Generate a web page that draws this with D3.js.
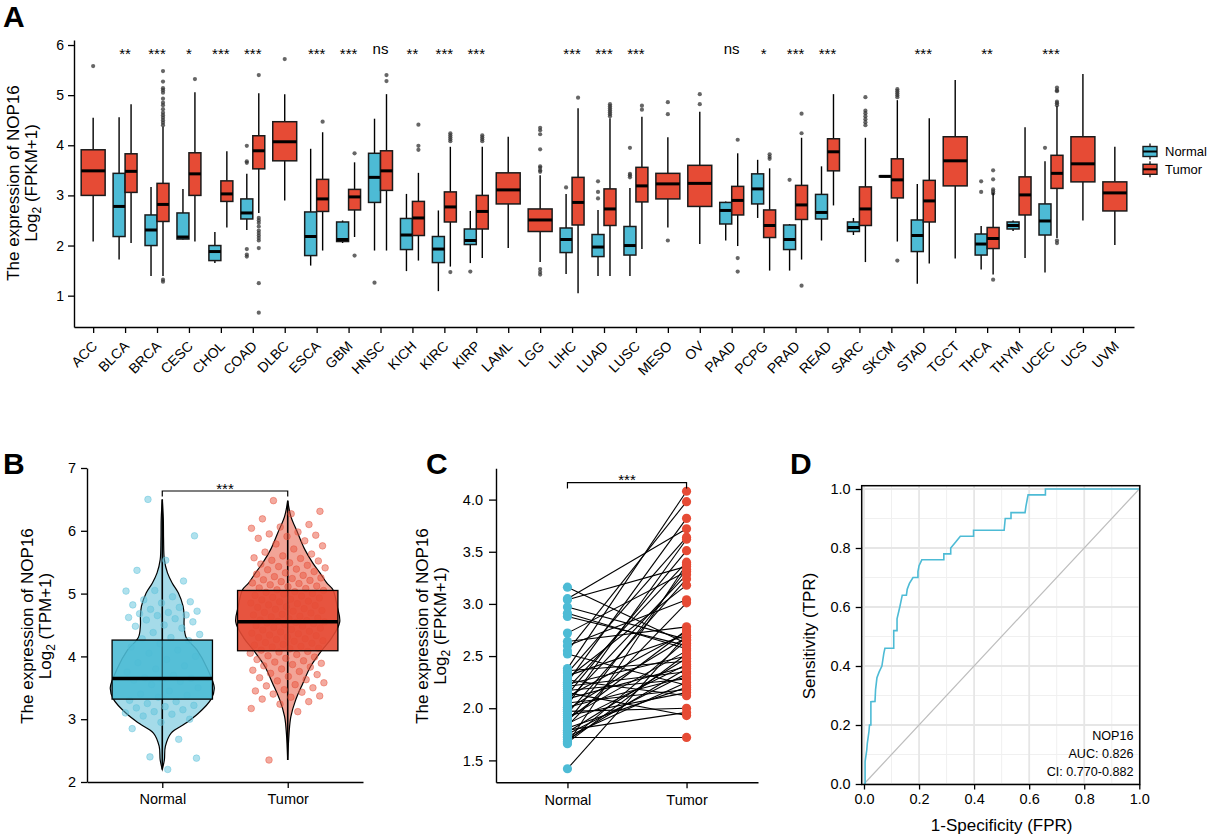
<!DOCTYPE html>
<html><head><meta charset="utf-8">
<script src="https://cdn.jsdelivr.net/npm/d3@7"></script>
<style>
body{margin:0;background:#fff;}
text{font-family:"Liberation Sans",Arial,Helvetica,sans-serif;fill:#000;}
</style>
</head><body>
<svg id="chart" width="1207" height="837" xmlns="http://www.w3.org/2000/svg"></svg>
<script>
// ---------------- DATA ----------------
// Panel A: pan-cancer boxplots  [lowerWhisker, Q1, median, Q3, upperWhisker]
const cancers = ["ACC","BLCA","BRCA","CESC","CHOL","COAD","DLBC","ESCA","GBM","HNSC","KICH","KIRC","KIRP","LAML","LGG","LIHC","LUAD","LUSC","MESO","OV","PAAD","PCPG","PRAD","READ","SARC","SKCM","STAD","TGCT","THCA","THYM","UCEC","UCS","UVM"];
const normalStats = [
  null,[1.72,2.18,2.78,3.44,4.56],[1.39,2.0,2.31,2.61,3.17],[2.12,2.13,2.17,2.65,3.13],[1.65,1.70,1.88,2.0,2.27],
  [2.31,2.53,2.65,2.93,3.43],null,[1.6,1.8,2.18,2.67,3.93],[2.05,2.08,2.12,2.47,2.5],[1.9,2.86,3.36,3.84,4.53],
  [1.49,1.92,2.21,2.54,3.03],[1.09,1.66,1.93,2.18,2.7],[1.65,2.02,2.1,2.33,2.69],null,null,
  [1.43,1.86,2.12,2.35,3.03],[1.39,1.78,1.97,2.22,2.71],[1.39,1.81,2.0,2.38,3.15],null,null,
  [2.1,2.43,2.7,2.86,2.88],[2.55,2.83,3.13,3.43,3.71],[1.5,1.92,2.12,2.41,2.43],[2.1,2.53,2.66,3.02,3.58],[2.21,2.28,2.36,2.47,2.55],
  [3.36,3.37,3.38,3.39,3.40],[1.24,1.88,2.2,2.51,3.23],null,[1.52,1.81,2.03,2.23,2.39],[2.29,2.33,2.4,2.47,2.5],
  [1.46,2.21,2.49,2.83,3.68],null,null
];
const tumorStats = [
  [2.08,3.0,3.49,3.91,4.55],[2.05,3.06,3.48,3.83,4.82],[1.39,2.48,2.82,3.24,4.37],[2.08,3.0,3.43,3.85,5.06],[2.36,2.88,3.03,3.29,3.88],
  [2.65,3.53,3.89,4.19,5.04],[2.9,3.69,4.07,4.47,5.02],[1.9,2.68,2.93,3.32,4.26],[2.17,2.71,2.97,3.12,3.66],[1.9,3.1,3.49,3.89,5.02],
  [1.7,2.2,2.55,2.88,3.45],[1.58,2.47,2.77,3.07,3.97],[1.75,2.33,2.68,3.0,3.97],[1.95,2.83,3.11,3.45,4.17],[1.67,2.28,2.51,2.73,3.4],
  [1.05,2.41,2.86,3.36,4.74],[1.39,2.4,2.73,3.13,4.54],[1.93,2.87,3.19,3.56,4.57],[2.36,2.93,3.23,3.44,4.16],[2.03,2.78,3.24,3.6,4.67],
  [1.99,2.61,2.9,3.18,3.84],[1.5,2.16,2.4,2.71,3.54],[1.72,2.52,2.81,3.2,4.15],[2.8,3.49,3.87,4.13,5.02],[1.67,2.4,2.73,3.17,4.15],
  [2.08,2.95,3.31,3.73,4.9],[1.64,2.47,2.89,3.3,4.54],[1.74,3.19,3.69,4.17,5.3],[1.42,1.94,2.14,2.36,3.05],[1.75,2.61,3.01,3.37,4.36],
  [2.15,3.14,3.44,3.8,4.78],[2.5,3.27,3.63,4.17,5.42],[2.01,2.69,3.05,3.27,3.97]
];
const normalOutliers = [
  [],[],[],[],[],[3.99,3.68,3.65,1.93,1.82,1.78],[],[],[],[1.26],
  [],[],[1.48],[],[],[3.16],[3.28,3.07,2.94],[3.95,3.43,3.4,3.36],[],[],
  [],[],[3.31],[],[],[],[],[],[3.28,3.07],[],[3.95],[],[]
];
const tumorOutliers = [
  [5.58],[],[5.48,5.27,5.14,5.1,5.05,4.93,4.85,4.8,4.72,4.65,4.6,4.55,4.5,4.45,4.4,1.32,1.28],[5.32],[],
  [5.4,2.55,2.5,2.45,2.38,2.3,2.25,2.2,2.15,2.1,1.95,1.25,0.66],[5.72],[4.47],[3.84,1.8],[5.4,5.28],
  [4.41,3.99,3.91],[4.24,4.2,4.16,4.12,4.08,1.47],[4.2,4.16,4.12,4.08],[],[4.35,4.3,4.22,3.92,3.58,3.55,3.5,3.47,1.53,1.47,1.42],
  [4.95],[4.82,4.78,4.74,4.7,4.66,4.62,4.58],[4.79,4.71],[4.86,4.62,2.1],[5.02,4.82],
  [4.11,1.75,1.48],[3.82,3.77,3.73],[4.63,4.24,1.2],[],[4.96,4.69,4.64,4.58,4.52,4.46,4.4],
  [5.12,5.08,5.04,5.0,4.96,1.7],[],[],[3.5,3.32,3.12,3.08,3.04,1.32],[],
  [5.15,5.1,5.08,4.87,4.84,4.8,2.1,2.05],[],[]
];
const sigLabels = ["","**","***","*","***","***","","***","***","ns","**","***","***","","","***","***","***","","","ns","*","***","***","","","***","","**","","***","",""];
const yTicksA = [1,2,3,4,5,6];

// Panel B: unpaired Normal vs Tumor (TPM)
const groups = ["Normal","Tumor"];
const bNormalBox = [2.2,3.32,3.65,4.26,6.5];
const bTumorBox = [2.35,4.09,4.55,5.05,6.48];
const bNormalPts = [6.5,5.92,5.53,5.37,5.2,5.05,5.04,4.95,4.9,4.87,4.85,4.82,4.78,4.75,4.72,4.7,4.68,4.66,4.65,4.62,4.6,4.58,4.55,4.5,4.48,4.45,4.38,4.35,4.3,4.28,4.25,4.2,4.15,4.1,4.05,4.0,3.95,3.9,3.85,3.8,3.75,3.7,3.66,3.65,3.64,3.62,3.6,3.55,3.5,3.45,3.4,3.38,3.35,3.3,3.28,3.25,3.22,3.2,3.18,3.15,3.12,3.1,3.08,3.05,3.0,2.95,2.85,2.68,2.4,2.38,2.2];
const bTumorPts = [6.48,6.31,6.27,6.19,6.1,6.06,6.04,5.98,5.95,5.93,5.91,5.88,5.84,5.79,5.76,5.71,5.66,5.63,5.6,5.57,5.56,5.53,5.52,5.49,5.47,5.45,5.43,5.41,5.39,5.38,5.35,5.33,5.31,5.29,5.27,5.25,5.24,5.22,5.21,5.19,5.17,5.16,5.14,5.12,5.11,5.09,5.08,5.06,5.05,5.03,5.02,5.0,4.99,4.97,4.96,4.94,4.93,4.91,4.9,4.88,4.87,4.85,4.84,4.82,4.81,4.79,4.78,4.76,4.75,4.73,4.72,4.7,4.69,4.67,4.66,4.64,4.63,4.61,4.6,4.58,4.57,4.56,4.55,4.54,4.53,4.52,4.51,4.49,4.48,4.46,4.45,4.43,4.42,4.4,4.39,4.37,4.36,4.34,4.33,4.31,4.3,4.28,4.27,4.25,4.24,4.22,4.21,4.19,4.18,4.16,4.15,4.13,4.12,4.1,4.08,4.07,4.05,4.03,4.01,3.99,3.97,3.95,3.93,3.91,3.89,3.87,3.85,3.83,3.8,3.78,3.76,3.73,3.71,3.68,3.66,3.63,3.61,3.58,3.55,3.53,3.5,3.47,3.45,3.43,3.4,3.37,3.35,3.32,3.28,3.24,3.17,3.12,2.35];
const violinNormalV = [2.2,2.35,2.57,2.78,2.93,3.09,3.32,3.5,3.8,4.1,4.3,4.5,4.64,4.8,5.01,5.17,5.33,5.54,5.86,6.2,6.5];
const violinNormalW = [0,0.04,0.06,0.17,0.44,0.69,0.94,1.0,0.87,0.67,0.46,0.42,0.42,0.4,0.31,0.19,0.1,0.04,0.025,0.02,0];
const violinTumorV = [2.35,2.77,3.04,3.3,3.57,3.84,4.09,4.3,4.55,4.8,5.06,5.17,5.33,5.49,5.7,5.97,6.23,6.48];
const violinTumorW = [0,0.025,0.06,0.15,0.29,0.44,0.65,0.85,1.0,0.95,0.87,0.75,0.62,0.48,0.33,0.19,0.06,0];
const yTicksB = [2,3,4,5,6,7];

// Panel C: paired samples (index i of cNormal is paired with index i of cTumor)
const cNormal = [3.16,3.05,3.04,2.97,2.91,2.88,2.72,2.64,2.6,2.55,2.52,2.38,2.36,2.34,2.31,2.29,2.27,2.25,2.23,2.21,2.19,2.17,2.15,2.13,2.11,2.09,2.07,2.05,2.03,2.01,1.99,1.97,1.95,1.93,1.91,1.89,1.87,1.85,1.83,1.81,1.79,1.77,1.75,1.73,1.72,1.7,1.68,1.66,1.67,1.42];
const cTumor  = [2.62,3.72,3.36,2.66,2.57,2.6,3.31,2.78,3.04,3.98,2.22,4.08,2.45,3.64,2.7,3.18,2.12,3.82,2.5,2.35,3.4,2.28,1.93,3.51,2.73,2.4,3.28,2.18,3.62,2.3,2.68,2.0,3.24,2.15,2.55,2.75,3.33,2.42,3.01,2.2,1.96,2.48,2.33,2.25,1.72,2.38,2.65,3.38,2.52,2.7];
const yTicksC = [1.5,2.0,2.5,3.0,3.5,4.0];

// Panel D: ROC curve
const rocFPR = [0,0.004,0.004,0.01,0.012,0.018,0.02,0.025,0.025,0.04,0.042,0.047,0.055,0.065,0.072,0.076,0.082,0.108,0.108,0.12,0.12,0.13,0.139,0.154,0.157,0.165,0.178,0.196,0.196,0.2,0.21,0.29,0.29,0.315,0.315,0.333,0.35,0.398,0.398,0.509,0.513,0.534,0.534,0.585,0.588,0.596,0.659,0.659,1.0];
const rocTPR = [0,0,0.076,0.115,0.138,0.178,0.2,0.2,0.279,0.28,0.32,0.36,0.38,0.4,0.443,0.46,0.46,0.46,0.52,0.52,0.56,0.6,0.64,0.64,0.66,0.68,0.7,0.7,0.72,0.74,0.76,0.76,0.78,0.78,0.8,0.82,0.84,0.84,0.86,0.86,0.9,0.9,0.92,0.92,0.94,0.98,0.98,1.0,1.0];
const rocTicks = [0,0.2,0.4,0.6,0.8,1.0];
const rocMinor = [0.1,0.3,0.5,0.7,0.9];
const rocNotes = ["NOP16","AUC: 0.826","CI: 0.770-0.882"];

// ---------------- STYLE ----------------
const COL_N = "#4DBBD5", COL_T = "#E64B35";
const FONT = '"Liberation Sans",Arial,Helvetica,sans-serif';
const svg = d3.select("#chart");

function yTitle(g, x1, x2, cy, line1, unit) {
  g.append("text").attr("transform",`translate(${x1},${cy}) rotate(-90)`).attr("text-anchor","middle")
    .style("font-size","17px").text(line1);
  const t = g.append("text").attr("transform",`translate(${x2},${cy}) rotate(-90)`).attr("text-anchor","middle")
    .style("font-size","17px");
  t.append("tspan").text("Log");
  t.append("tspan").attr("dy","4").style("font-size","12px").text("2");
  t.append("tspan").attr("dy","-4").text(" " + unit);
}
function styleAxis(ax, fs) {
  ax.selectAll("path.domain").attr("stroke","#000").attr("stroke-width",1.4);
  ax.selectAll(".tick line").attr("stroke","#000").attr("stroke-width",1.3);
  ax.selectAll(".tick text").style("font-size",fs).attr("fill","#000").style("font-family",FONT);
}
function panelLetter(x, y, l) {
  svg.append("text").attr("x",x).attr("y",y).style("font-size","30px").style("font-weight","bold").text(l);
}

// ---------------- PANEL A ----------------
const gA = svg.append("g");
const xA = d3.scalePoint().domain(cancers).range([74,1134]).padding(0.6);
const yA = d3.scaleLinear().domain([0.375,6.1]).range([327,40]);
const stepA = xA.step();

function boxA(cx, w, s, col, outs) {
  const g = gA.append("g");
  g.selectAll("circle").data(outs).join("circle").attr("cx",cx).attr("cy",d=>yA(d)).attr("r",2.1)
    .attr("fill","#333").attr("fill-opacity",0.75);
  g.append("line").attr("x1",cx).attr("x2",cx).attr("y1",yA(s[4])).attr("y2",yA(s[3])).attr("stroke","#000").attr("stroke-width",1.4);
  g.append("line").attr("x1",cx).attr("x2",cx).attr("y1",yA(s[1])).attr("y2",yA(s[0])).attr("stroke","#000").attr("stroke-width",1.4);
  g.append("rect").attr("x",cx-w/2).attr("y",yA(s[3])).attr("width",w).attr("height",Math.max(1,yA(s[1])-yA(s[3])))
    .attr("fill",col).attr("stroke","#1a1a1a").attr("stroke-width",1.5);
  g.append("line").attr("x1",cx-w/2).attr("x2",cx+w/2).attr("y1",yA(s[2])).attr("y2",yA(s[2])).attr("stroke","#000").attr("stroke-width",3);
}
cancers.forEach((c,i)=>{
  const cx = xA(c);
  if (normalStats[i]) {
    boxA(cx - stepA*0.1875, stepA*0.375, normalStats[i], COL_N, normalOutliers[i]);
    boxA(cx + stepA*0.1875, stepA*0.375, tumorStats[i], COL_T, tumorOutliers[i]);
  } else {
    boxA(cx, stepA*0.75, tumorStats[i], COL_T, tumorOutliers[i]);
  }
  const lab = sigLabels[i];
  if (lab) {
    gA.append("text").attr("x",cx).attr("y", lab==="ns"?53.5:59).attr("text-anchor","middle")
      .style("font-size","15px").text(lab);
  }
});
const axAy = gA.append("g").attr("transform","translate(74,0)")
  .call(d3.axisLeft(yA).tickValues(yTicksA).tickSize(6).tickSizeOuter(0).tickPadding(4).tickFormat(d3.format("d")));
styleAxis(axAy,"14px");
const axAx = gA.append("g").attr("transform","translate(0,327)")
  .call(d3.axisBottom(xA).tickSize(6).tickSizeOuter(0).tickFormat(""));
styleAxis(axAx,"13px");
// rotated category labels (45°, right end under each tick)
const xLabA = gA.append("g").selectAll("g").data(cancers).join("g")
  .attr("transform", d => `translate(${xA(d)+5},${347}) rotate(-45)`);
xLabA.append("text").attr("x",0).attr("y",0).attr("text-anchor","end").style("font-size","14px").text(d=>d);
yTitle(gA, 19, 37, 183, "The expression of NOP16", "(FPKM+1)");
// legend
const legA = gA.append("g");
[["Normal",COL_N,151.5],["Tumor",COL_T,169.3]].forEach(([lab,col,cy])=>{
  legA.append("line").attr("x1",1150).attr("x2",1150).attr("y1",cy-8).attr("y2",cy+8).attr("stroke","#000").attr("stroke-width",1.2);
  legA.append("rect").attr("x",1143).attr("y",cy-5).attr("width",14).attr("height",10).attr("fill",col).attr("stroke","#1a1a1a").attr("stroke-width",1.4);
  legA.append("line").attr("x1",1143).attr("x2",1157).attr("y1",cy).attr("y2",cy).attr("stroke","#000").attr("stroke-width",2);
  legA.append("text").attr("x",1165).attr("y",cy+4.5).style("font-size","13px").text(lab);
});
panelLetter(3,27,"A");

// ---------------- PANEL B ----------------
const gB = svg.append("g");
const xB = d3.scalePoint().domain(groups).range([87,363]).padding(0.6);
const yB = d3.scaleLinear().domain([2,7]).range([782,468]);
const stepB = xB.step();
const maxHalfB = 52;
const violins = [
  [violinNormalV, violinNormalW, "#A5DBE9", "Normal"],
  [violinTumorV, violinTumorW, "#F2A497", "Tumor"]
];
violins.forEach(([vv,ww,fill,grp])=>{
  const cx = xB(grp);
  const pts = vv.map((v,i)=>[v,ww[i]]);
  const area = d3.area().y(d=>yB(d[0])).x0(d=>cx-d[1]*maxHalfB).x1(d=>cx+d[1]*maxHalfB).curve(d3.curveCatmullRom);
  gB.append("path").attr("d",area(pts)).attr("fill",fill).attr("stroke","#000").attr("stroke-width",1.2);
});
const boxesB = [[bNormalBox, COL_N, "Normal", bNormalPts, "#62C3DC"],[bTumorBox, COL_T, "Tumor", bTumorPts, "#E8553F"]];
boxesB.forEach(([s,col,grp,pts,pc])=>{
  const cx = xB(grp), jw = stepB*0.3;
  gB.append("line").attr("x1",cx).attr("x2",cx).attr("y1",yB(s[4])).attr("y2",yB(s[0])).attr("stroke","#000").attr("stroke-width",1.6);
  gB.append("g").selectAll("circle").data(pts).join("circle")
    .attr("cx",(d,i)=>cx + (((i*0.6180339887+0.31)%1)*2-1)*jw)
    .attr("cy",d=>yB(d)).attr("r",3.3).attr("fill",pc).attr("fill-opacity",0.5)
    .attr("stroke",pc).attr("stroke-opacity",0.6).attr("stroke-width",0.8);
});
boxesB.forEach(([s,col,grp])=>{
  const cx = xB(grp), w = stepB*0.8;
  gB.append("rect").attr("x",cx-w/2).attr("y",yB(s[3])).attr("width",w).attr("height",yB(s[1])-yB(s[3]))
    .attr("fill",col).attr("fill-opacity",0.9).attr("stroke","#000").attr("stroke-width",1.3);
  gB.append("line").attr("x1",cx).attr("x2",cx).attr("y1",yB(s[3])).attr("y2",yB(s[1])).attr("stroke","#000").attr("stroke-width",1.2).attr("stroke-opacity",0.5);
  gB.append("line").attr("x1",cx-w/2).attr("x2",cx+w/2).attr("y1",yB(s[2])).attr("y2",yB(s[2])).attr("stroke","#000").attr("stroke-width",3.5);
});
// bracket
gB.append("path").attr("d",`M${xB("Normal")},${496.5}V${491}H${xB("Tumor")}V${496.5}`).attr("fill","none").attr("stroke","#000").attr("stroke-width",1.2);
gB.append("text").attr("x",(xB("Normal")+xB("Tumor"))/2).attr("y",493.5).attr("text-anchor","middle").style("font-size","15px").text("***");
const axBy = gB.append("g").attr("transform","translate(87,0)")
  .call(d3.axisLeft(yB).tickValues(yTicksB).tickSize(6).tickSizeOuter(0).tickPadding(5).tickFormat(d3.format("d")));
styleAxis(axBy,"14.5px");
const axBx = gB.append("g").attr("transform","translate(0,782)").call(d3.axisBottom(xB).tickSize(6).tickSizeOuter(0).tickPadding(6));
styleAxis(axBx,"14.5px");
yTitle(gB, 33, 51, 626, "The expression of NOP16", "(TPM+1)");
panelLetter(3,474,"B");

// ---------------- PANEL C ----------------
const gC = svg.append("g");
const xC = d3.scalePoint().domain(groups).range([496,758]).padding(0.6);
const yC = d3.scaleLinear().domain([1.29,4.30]).range([782.3,468.3]);
cNormal.forEach((v,i)=>{
  gC.append("line").attr("x1",xC("Normal")).attr("x2",xC("Tumor")).attr("y1",yC(v)).attr("y2",yC(cTumor[i]))
    .attr("stroke","#000").attr("stroke-width",1.1);
});
gC.append("g").selectAll("circle").data(cNormal).join("circle").attr("cx",xC("Normal")).attr("cy",d=>yC(d)).attr("r",4.6).attr("fill",COL_N);
gC.append("g").selectAll("circle").data(cTumor).join("circle").attr("cx",xC("Tumor")).attr("cy",d=>yC(d)).attr("r",4.6).attr("fill",COL_T);
gC.append("path").attr("d",`M${xC("Normal")},${488.5}V${482.7}H${xC("Tumor")}V${488.5}`).attr("fill","none").attr("stroke","#000").attr("stroke-width",1.2);
gC.append("text").attr("x",(xC("Normal")+xC("Tumor"))/2).attr("y",484.6).attr("text-anchor","middle").style("font-size","15px").text("***");
const axCy = gC.append("g").attr("transform","translate(496,0)")
  .call(d3.axisLeft(yC).tickValues(yTicksC).tickSize(7).tickSizeOuter(0).tickPadding(6).tickFormat(d3.format(".1f")));
styleAxis(axCy,"14.5px");
const axCx = gC.append("g").attr("transform","translate(0,782.3)").call(d3.axisBottom(xC).tickSize(6).tickSizeOuter(0).tickPadding(6));
styleAxis(axCx,"14.5px");
yTitle(gC, 428, 446, 626, "The expression of NOP16", "(FPKM+1)");
panelLetter(426,474,"C");

// ---------------- PANEL D ----------------
const gD = svg.append("g");
const xD = d3.scaleLinear().domain([0,1]).range([864,1139.3]);
const yD = d3.scaleLinear().domain([0,1]).range([784,489]);
const pL = 861.7, pR = 1139.8, pT = 485.7, pB = 784.5;
gD.append("rect").attr("x",pL).attr("y",pT).attr("width",pR-pL).attr("height",pB-pT).attr("fill","#fff");
rocMinor.forEach(v=>{
  gD.append("line").attr("x1",xD(v)).attr("x2",xD(v)).attr("y1",pT).attr("y2",pB).attr("stroke","#F0F0F0").attr("stroke-width",1);
  gD.append("line").attr("x1",pL).attr("x2",pR).attr("y1",yD(v)).attr("y2",yD(v)).attr("stroke","#F0F0F0").attr("stroke-width",1);
});
rocTicks.forEach(v=>{
  gD.append("line").attr("x1",xD(v)).attr("x2",xD(v)).attr("y1",pT).attr("y2",pB).attr("stroke","#E6E6E6").attr("stroke-width",1.8);
  gD.append("line").attr("x1",pL).attr("x2",pR).attr("y1",yD(v)).attr("y2",yD(v)).attr("stroke","#E6E6E6").attr("stroke-width",1.8);
});
gD.append("line").attr("x1",xD(0)).attr("y1",yD(0)).attr("x2",xD(1)).attr("y2",yD(1)).attr("stroke","#BDBDBD").attr("stroke-width",1.2);
const rocPts = rocFPR.map((f,i)=>[f,rocTPR[i]]);
gD.append("path").attr("d",d3.line().x(d=>xD(d[0])).y(d=>yD(d[1]))(rocPts)).attr("fill","none").attr("stroke","#4DBBD5").attr("stroke-width",1.6);
gD.append("rect").attr("x",pL).attr("y",pT).attr("width",pR-pL).attr("height",pB-pT).attr("fill","none").attr("stroke","#000").attr("stroke-width",1.5);
rocNotes.forEach((t,i)=>{
  gD.append("text").attr("x",1133.5).attr("y",740+i*18).attr("text-anchor","end").style("font-size","12.6px").attr("fill","#222").text(t);
});
const axDy = gD.append("g").attr("transform",`translate(${pL},0)`)
  .call(d3.axisLeft(yD).tickValues(rocTicks).tickSize(6).tickSizeOuter(0).tickPadding(5).tickFormat(d3.format(".1f")));
styleAxis(axDy,"14.5px"); axDy.select("path.domain").remove();
const axDx = gD.append("g").attr("transform",`translate(0,${pB})`)
  .call(d3.axisBottom(xD).tickValues(rocTicks).tickSize(5).tickSizeOuter(0).tickPadding(4).tickFormat(d3.format(".1f")));
styleAxis(axDx,"14.5px"); axDx.select("path.domain").remove();
gD.append("text").attr("x",1001.7).attr("y",831).attr("text-anchor","middle").style("font-size","17px").text("1-Specificity (FPR)");
gD.append("text").attr("transform","translate(815,636) rotate(-90)").attr("text-anchor","middle").style("font-size","17px").text("Sensitivity (TPR)");
panelLetter(790,474,"D");
</script>
</body></html>
